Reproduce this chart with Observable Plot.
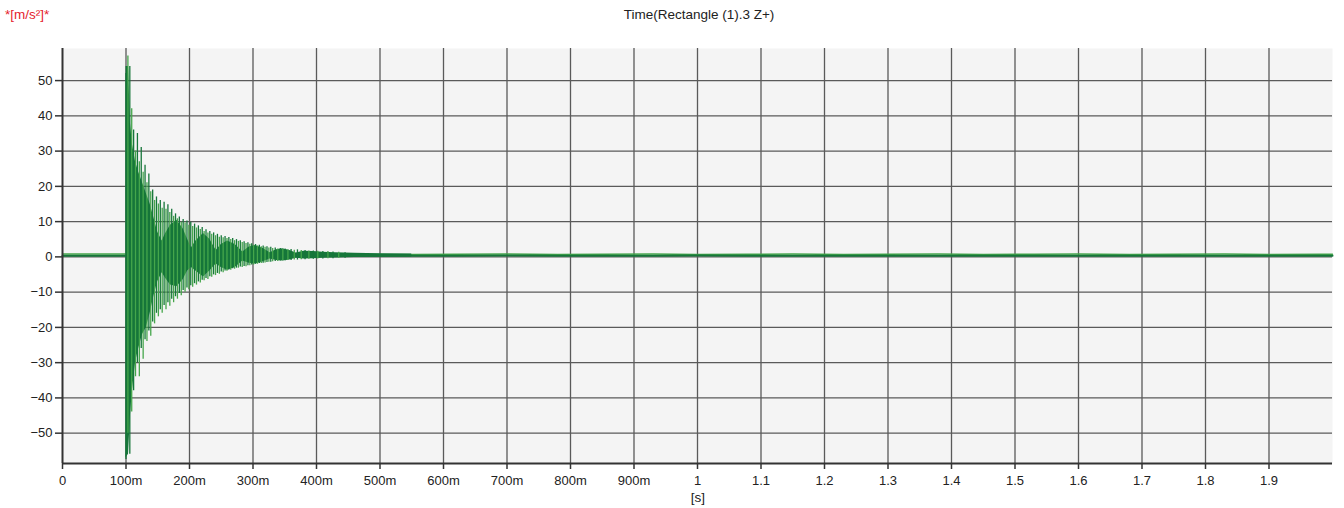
<!DOCTYPE html>
<html><head><meta charset="utf-8">
<script src="https://cdn.jsdelivr.net/npm/d3@7"></script>
<script src="https://cdn.jsdelivr.net/npm/@observablehq/plot@0.6"></script>
<style>
body{margin:0;background:#fff;font-family:"Liberation Sans",Arial,sans-serif;}
#wrap{position:relative;width:1344px;height:508px;overflow:hidden;}
#chart{position:absolute;left:0;top:0;}
.t{position:absolute;font-size:13.5px;white-space:nowrap;line-height:15px;}
</style></head><body>
<div id="wrap">
<div id="chart"></div>
<div class="t" style="left:699px;top:7px;transform:translateX(-50%);color:#222">Time(Rectangle (1).3 Z+)</div>
<div class="t" style="left:5px;top:7px;color:#e5222c">*[m/s²]*</div>
<div class="t" style="left:698px;top:490px;transform:translateX(-50%);color:#222">[s]</div>
</div>
<script>
// axis ticks
const xTicks = [0,0.1,0.2,0.3,0.4,0.5,0.6,0.7,0.8,0.9,1.0,1.1,1.2,1.3,1.4,1.5,1.6,1.7,1.8,1.9];
const yTicks = [-50,-40,-30,-20,-10,0,10,20,30,40,50];

// individual oscillation strokes (time in ms, peak high / low in m/s²)
const spikeT = [100,103,106,109,112,115,118,121,124,127,130,133,136,139,142,145,148,151,154,157,160,163,166,169,172,175,178,181,184,187,190,193,196,199,202,205,208,211,214,217,220,223,226,229,232,235,238,241,244,247,250,253,256,259,262,265,268,271,274,277,280,283,286,289,292,295,298,301,304,307,310,313,316,319,322,325,328,331,335,339,343,347,351,355,360,365,370,376,382,388,395,402,410,418,426,435,445];
const spikeHi = [52,57,54,42,36,30,35,27,31,24,26,21,23.5,18.5,19,16,17,15,16,13.8,15.5,13.5,14.8,12.6,13.5,11.5,12.2,10.8,11.3,9.8,10.6,9.6,10.2,9,9.8,8.6,9.3,8.2,8.8,7.8,8.3,7.2,7.7,6.8,7.2,6.4,6.8,6,6.4,5.6,6,5.4,5.8,5.2,5.5,4.9,5.2,4.6,4.9,4.4,4.6,4.1,4.3,3.8,4,3.6,3.7,3.3,3.5,3.1,3.3,2.9,3.1,2.7,2.9,2.5,2.7,2.4,2.5,2.2,2.4,2.1,2.2,2,2.1,1.9,2,1.8,1.8,1.7,1.7,1.6,1.5,1.5,1.4,1.3,1.2];
const spikeLo = [-57.5,-50,-56,-44,-38,-34,-30,-34,-26,-29,-23.5,-24,-21,-22.5,-18.5,-19,-16,-17,-15,-16,-13.8,-15,-13,-14,-12,-13,-11.3,-12,-10.4,-11,-9.5,-10,-8.8,-9.3,-8.2,-8.6,-7.6,-8,-7.1,-7.4,-6.6,-6.8,-6.1,-6.4,-5.6,-5.8,-5.1,-5.3,-4.7,-4.9,-4.3,-4.5,-4,-4.1,-3.7,-3.8,-3.4,-3.5,-3.2,-3.2,-2.9,-3,-2.7,-2.8,-2.5,-2.5,-2.3,-2.3,-2.1,-2.1,-1.9,-1.9,-1.8,-1.7,-1.6,-1.5,-1.5,-1.4,-1.3,-1.3,-1.2,-1.1,-1.1,-1,-1,-0.9,-0.9,-0.8,-0.8,-0.7,-0.7,-0.6,-0.6,-0.5,-0.5,-0.4,-0.4];

// beating envelope (solid dark band), time in ms
const lobeT  = [100,104,107,110,115,120,126,132,138,144,150,157,162,170,180,190,197,203,210,222,232,242,250,260,272,284,294,304,316,327,337,347,358,368,380,395,410,430,460,500,550];
const lobeHi = [54,54,38,32,27,24,21,18,15,11,7,4.5,6.5,9,10.4,8,5,2.5,4.5,6.6,5,1.8,3.5,4.5,3.5,1.4,2.8,3.2,2.4,1.2,2,2.3,1.8,1.1,1.6,1.5,1.3,1.2,1.0,0.9,0.8];
const lobeLo = [-57,-56,-45,-38,-30,-26,-22,-20,-16,-11,-7,-4.5,-6,-8,-8.5,-6.5,-4,-3,-4,-5.7,-4,-2,-3,-3.8,-3,-1.2,-1.8,-2,-1.4,-0.6,-1,-1.2,-0.9,-0.4,-0.6,-0.5,-0.4,-0.3,-0.2,-0.1,0.0];

// residual baseline, time in ms
const baseT     = [0,99,550,620,700,780,850,930,1000,1080,1150,1230,1300,1380,1450,1530,1600,1680,1750,1830,1900,1980,2000];
const baseDark  = [0.3,0.3,0.35,0.3,0.4,0.3,0.35,0.3,0.4,0.3,0.35,0.3,0.3,0.35,0.3,0.3,0.35,0.3,0.3,0.35,0.3,0.3,0.3];
const baseLight = [0.8,0.8,0.7,0.75,0.8,0.7,0.75,0.8,0.7,0.75,0.8,0.7,0.75,0.8,0.7,0.75,0.8,0.7,0.75,0.8,0.7,0.75,0.75];

const dark = "#16763a", light = "#45a64b";
const yMin = -58.6, yMax = 59.1;

const spikes = spikeT.map((t,i)=>({t:t/1000, hi:spikeHi[i], lo:spikeLo[i], k:i%2}));
const lobes = lobeT.map((t,i)=>({t:t/1000, hi:lobeHi[i], lo:lobeLo[i]}));
const base = baseT.map((t,i)=>({t:t/1000, d:baseDark[i], l:baseLight[i]}));

const fmt = v => v === 0 ? "0" : (v < 0.95 ? Math.round(v*1000) + "m" : d3.format(".1~f")(v));

const chart = Plot.plot({
  width: 1344, height: 508,
  marginLeft: 62, marginRight: 12, marginTop: 48, marginBottom: 45,
  style: {fontFamily: "Liberation Sans, Arial, sans-serif", fontSize: "13px", color: "#222", background: "transparent"},
  x: {domain: [0, 2]},
  y: {domain: [yMin, yMax]},
  marks: [
    Plot.frame({fill: "#f4f4f4", stroke: null}),
    Plot.gridX(xTicks.filter(d => d > 0), {stroke: "#5a5a5a", strokeOpacity: 1, strokeWidth: 1.3}),
    Plot.gridY(yTicks, {stroke: "#5a5a5a", strokeOpacity: 1, strokeWidth: 1.3}),
    Plot.line(base, {x: "t", y: "l", stroke: light, strokeWidth: 1.5}),
    Plot.line(base, {x: "t", y: "d", stroke: dark, strokeWidth: 2}),
    Plot.areaY(lobes, {x: "t", y1: "lo", y2: "hi", fill: dark, curve: "linear"}),
    Plot.ruleX(spikes, {x: "t", y1: "lo", y2: "hi", stroke: d => d.k ? light : dark, strokeWidth: 1.3}),
    Plot.ruleX([0], {stroke: "#333", strokeWidth: 2}),
    Plot.ruleY([yMin], {stroke: "#333", strokeWidth: 2}),
    Plot.axisX({ticks: xTicks, tickFormat: fmt, tickSize: 6, tickPadding: 6, label: null, stroke: "#333", strokeWidth: 1.5}),
    Plot.axisY({ticks: yTicks, tickSize: 7, tickPadding: 3, label: null, stroke: "#333", strokeWidth: 1.5})
  ]
});
document.getElementById("chart").appendChild(chart);
</script>
</body></html>
